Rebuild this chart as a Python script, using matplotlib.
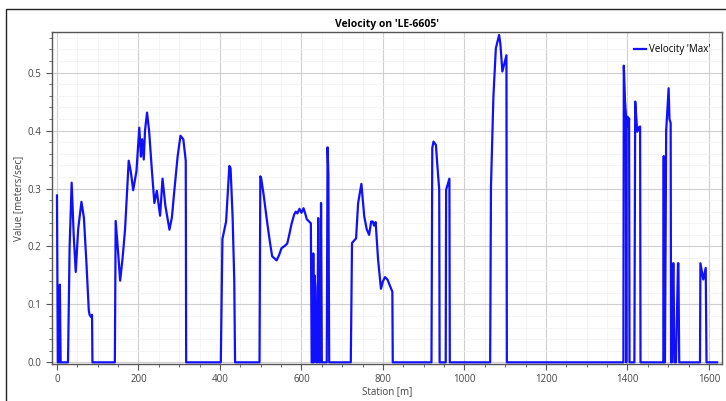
import numpy as np
import matplotlib.pyplot as plt
from matplotlib.ticker import MultipleLocator
from matplotlib.patches import Rectangle

# Station [m] и значения скорости
station = [0, 2, 6, 7, 9, 27, 31, 36, 41, 46, 52, 60, 66, 72, 78, 80, 84, 86, 87,
           142, 144, 150, 155, 161, 167, 176, 181, 187, 195, 202, 206, 209, 213, 216, 221, 226,
           233, 239, 245, 253, 259, 266, 276, 282, 287, 296, 303, 310, 316, 317,
           402, 406, 415, 423, 426, 431, 435, 437,
           497, 499, 501, 507, 515, 522, 528, 539, 545, 551, 559, 565, 569, 576, 582, 586,
           590, 595, 600, 605, 610, 613, 623, 625, 628, 629, 630, 632, 634, 636, 639, 641, 643,
           646, 648, 650, 662, 664, 666, 668,
           721, 724, 734, 739, 747, 754, 760, 766, 771, 775, 778, 782, 788, 795, 800, 805, 811,
           816, 823, 824,
           919, 921, 924, 930, 933, 938, 939,
           954, 955, 963, 964,
           1063, 1065, 1071, 1077, 1085, 1088, 1093, 1098, 1103, 1104,
           1390, 1391, 1394, 1396, 1397, 1398, 1400, 1402, 1404, 1405,
           1417, 1419, 1424, 1427, 1431, 1432,
           1488, 1489, 1490, 1492, 1495, 1501, 1503, 1506, 1507,
           1509, 1512, 1513, 1515, 1519, 1524, 1525, 1527,
           1578, 1579, 1586, 1592, 1594, 1620]
velocity = [0.288, 0.0, 0.0, 0.134, 0.0, 0.0, 0.2, 0.31, 0.22, 0.156, 0.23, 0.277, 0.25, 0.175,
            0.09, 0.082, 0.078, 0.082, 0.0,
            0.0, 0.244, 0.19, 0.141, 0.18, 0.229, 0.348, 0.33, 0.297, 0.33, 0.405, 0.355, 0.385,
            0.35, 0.40, 0.431, 0.40,
            0.33, 0.275, 0.296, 0.253, 0.317, 0.27, 0.229, 0.25, 0.289, 0.355, 0.391, 0.385,
            0.348, 0.0,
            0.0, 0.213, 0.243, 0.339, 0.335, 0.25, 0.143, 0.0,
            0.0, 0.321, 0.318, 0.29, 0.246, 0.21, 0.183, 0.176, 0.185, 0.197, 0.201, 0.205, 0.217,
            0.240, 0.255, 0.260,
            0.257, 0.265, 0.258, 0.266, 0.255, 0.247, 0.240, 0.0, 0.0, 0.188, 0.0, 0.15, 0.13,
            0.0, 0.0, 0.249, 0.0,
            0.0, 0.275, 0.0, 0.0, 0.371, 0.325, 0.0,
            0.0, 0.206, 0.214, 0.275, 0.308, 0.252, 0.23, 0.220, 0.243, 0.243, 0.236, 0.242,
            0.177, 0.127, 0.14, 0.147, 0.143,
            0.134, 0.122, 0.0,
            0.0, 0.37, 0.381, 0.375, 0.344, 0.298, 0.0,
            0.0, 0.298, 0.317, 0.0,
            0.0, 0.303, 0.459, 0.542, 0.565, 0.55, 0.502, 0.516, 0.530, 0.0,
            0.0, 0.512, 0.45, 0.43, 0.0, 0.41, 0.424, 0.407, 0.421, 0.0,
            0.0, 0.45, 0.398, 0.405, 0.407, 0.0,
            0.0, 0.356, 0.0, 0.0, 0.40, 0.473, 0.42, 0.413, 0.0,
            0.0, 0.171, 0.171, 0.0, 0.0, 0.171, 0.171, 0.0,
            0.0, 0.171, 0.143, 0.163, 0.0, 0.0]

plt.rcParams['font.family'] = ['Open Sans', 'DejaVu Sans']

fig = plt.figure(figsize=(7.26, 4.01), dpi=100)
ax = fig.add_axes([0.0712, 0.0935, 0.9233, 0.826])

# внешняя рамка
fig.patches.append(Rectangle((6 / 726, -0.01), 1.0, 392 / 401 + 0.01, transform=fig.transFigure,
                             fill=False, edgecolor='#222222', linewidth=1.0))

ax.plot(station, velocity, color='#1010ff', linewidth=1.6, label="Velocity 'Max'")

ax.set_xlim(-13, 1632)
ax.set_ylim(-0.002, 0.5696)
ax.xaxis.set_major_locator(MultipleLocator(200))
ax.xaxis.set_minor_locator(MultipleLocator(50))
ax.yaxis.set_major_locator(MultipleLocator(0.1))
ax.yaxis.set_minor_locator(MultipleLocator(0.02))
ax.yaxis.set_major_formatter(plt.FormatStrFormatter('%.1f'))

ax.grid(True, which='major', color='#cfcfcf', linewidth=0.8)
ax.grid(True, which='minor', color='#f2f2f2', linewidth=0.6)
ax.set_axisbelow(True)

ax.tick_params(which='major', length=4, color='#555555', labelsize=7, labelcolor='#444444')
ax.tick_params(which='minor', length=2.5, color='#555555')
for s in ax.spines.values():
    s.set_color('#555555')
    s.set_linewidth(1.0)

ax.set_title("Velocity on 'LE-6605'", fontsize=7.5, fontweight='bold', pad=4)
ax.set_xlabel('Station [m]', fontsize=7, color='#444444', labelpad=1)
ax.set_ylabel('Value [meters/sec]', fontsize=7, color='#444444', labelpad=2)

ax.legend(loc='upper right', frameon=False, fontsize=7, handlelength=1.2, handletextpad=0.3,
          borderaxespad=0.8)

fig.savefig('out.png', dpi=100)
